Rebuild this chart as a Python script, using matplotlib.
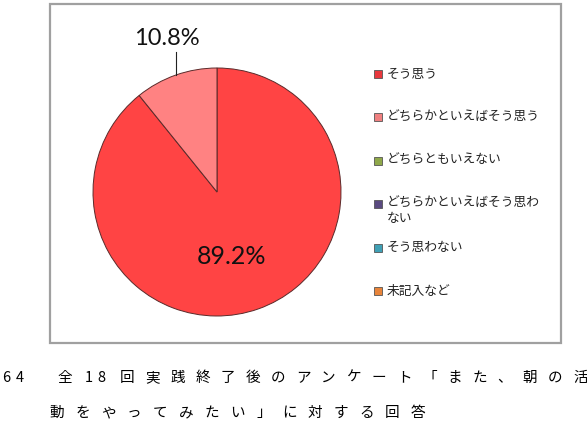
import numpy as np
import matplotlib.pyplot as plt
from matplotlib.patches import Rectangle

plt.rcParams['font.family'] = ['Noto Sans CJK JP', 'DejaVu Sans']

# data
labels = ['そう思う', 'どちらかといえばそう思う', 'どちらともいえない',
          'どちらかといえばそう思わ\nない', 'そう思わない', '未記入など']
values = [89.2, 10.8, 0.0, 0.0, 0.0, 0.0]
colors = ['#FF4444', '#FF8282', '#9BBB59', '#5F4B8B', '#4BACC6', '#F79646']
legend_colors = ['#E8383D', '#F08080', '#8FA84A', '#5A4A80', '#3FA0B5', '#E8843A']
caption_1 = ['6', '4', '全', '1', '8', '回', '実', '践', '終', '了', '後', 'の', 'ア', 'ン',
             'ケ', 'ー', 'ト', '「', 'ま', 'た', '、', '朝', 'の', '活']
caption_2 = list('動をやってみたい」に対する回答')

W, H = 587, 437
fig = plt.figure(figsize=(W / 100, H / 100), dpi=100)

# chart frame
fig.patches.append(Rectangle((50 / W, 1 - 343 / H), 511 / W, 339 / H,
                             transform=fig.transFigure, fill=False,
                             edgecolor='#A0A0A0', linewidth=1.6))

# pie axes: center (217,192) px, radius 124 px
cx, cy, r = 217, 192, 124
ax = fig.add_axes([(cx - r) / W, 1 - (cy + r) / H, 2 * r / W, 2 * r / H])
nz = [v for v in values if v > 0]
wedges, _ = ax.pie(nz, colors=colors[:len(nz)], startangle=90, counterclock=False,
                   wedgeprops=dict(edgecolor='#5a2a2a', linewidth=0.7))
ax.set_xlim(-1, 1)
ax.set_ylim(-1, 1)
ax.set_aspect('auto')
ax.axis('off')

# labels
total = sum(nz)
start = 90.0
for i, v in enumerate(nz):
    ang = start - 360 * v / total / 2
    a = np.deg2rad(ang)
    if v > 50:
        d = 0.55
        ax.text(d * np.cos(a) - 0.07, d * np.sin(a), f'{v:.1f}%', ha='center', va='center',
                fontsize=18, family='Lato', color='#111111')
    else:
        x0, y0 = np.cos(a), np.sin(a)
        ax.plot([x0, x0], [y0, 1.13], color='#222222', lw=0.8, clip_on=False)
        ax.text(x0 - 0.07, 1.24, f'{v:.1f}%', ha='center', va='center',
                fontsize=17, family='Lato', color='#111111', clip_on=False)
    start -= 360 * v / total

# legend
for i, (lab, c) in enumerate(zip(labels, legend_colors)):
    y = 74 + i * 43.4
    fig.patches.append(Rectangle((374 / W, 1 - (y + 4) / H), 8 / W, 8 / H,
                                 transform=fig.transFigure, facecolor=c,
                                 edgecolor='#555555', linewidth=0.6))
    if '\n' in lab:
        fig.text(387 / W, 1 - (y - 7.5) / H, lab, ha='left', va='top',
                 fontsize=9.2, color='#222222', linespacing=1.25)
    else:
        fig.text(387 / W, 1 - y / H, lab, ha='left', va='center',
                 fontsize=9.2, color='#222222')

# caption
xs1 = [6, 20, 65, 89, 101] + [127 + 25.2 * k for k in range(19)]
for ch, x in zip(caption_1, xs1):
    fig.text(x / W, 1 - 378 / H, ch, ha='center', va='center', fontsize=10.5, color='black')
for k, ch in enumerate(caption_2):
    fig.text((57 + 25.8 * k) / W, 1 - 413 / H, ch, ha='center', va='center',
             fontsize=10.5, color='black')

fig.savefig('out.png', dpi=100)
